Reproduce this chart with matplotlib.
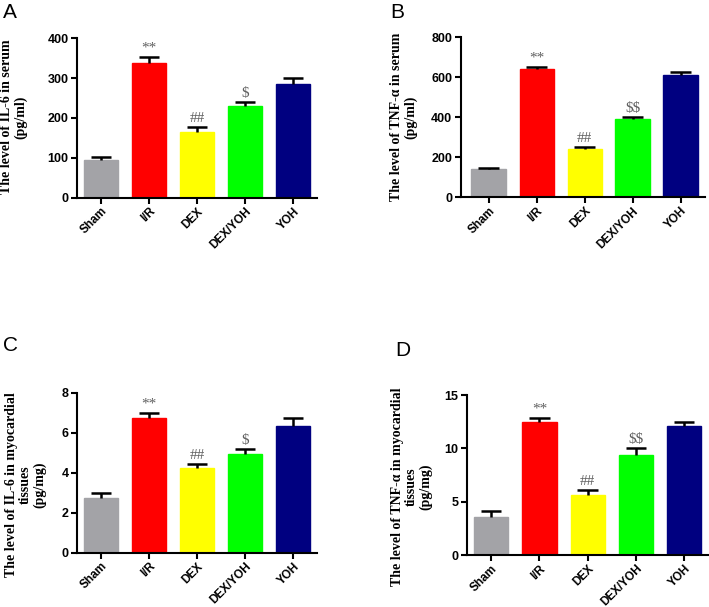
import numpy as np
import matplotlib.pyplot as plt

# groups and colours
groups = ["Sham", "I/R", "DEX", "DEX/YOH", "YOH"]
bar_colors = ["#a3a3a7", "#ff0000", "#ffff00", "#00ff00", "#000080"]

# values (mean, upper error)
il6_serum = [95, 338, 166, 231, 285]
il6_serum_err = [8, 16, 11, 8, 15]
tnf_serum = [140, 641, 243, 391, 613]
tnf_serum_err = [4, 12, 10, 12, 15]
il6_tissue = [2.72, 6.72, 4.22, 4.92, 6.35]
il6_tissue_err = [0.28, 0.28, 0.21, 0.26, 0.40]
tnf_tissue = [3.59, 12.44, 5.62, 9.40, 12.12]
tnf_tissue_err = [0.52, 0.43, 0.44, 0.60, 0.35]

il6_serum_sig = ["", "**", "##", "$", ""]
tnf_serum_sig = ["", "**", "##", "$$", ""]
il6_tissue_sig = ["", "**", "##", "$", ""]
tnf_tissue_sig = ["", "**", "##", "$$", ""]

W, H = 709, 607
fig = plt.figure(figsize=(W / 100, H / 100), dpi=100)


def px_axes(left, right, bottom, top):
    # pixel box -> figure fraction
    return fig.add_axes([left / W, 1 - bottom / H, (right - left) / W, (bottom - top) / H])


def draw_panel(ax, vals, errs, sigs, ymax, ystep, xlim):
    x = np.arange(len(groups))
    ax.bar(x, vals, width=0.71, color=bar_colors, edgecolor=bar_colors, zorder=2)
    tops = np.array(vals) + np.array(errs)
    # upper error bars only
    ax.vlines(x, vals, tops, color="black", linewidth=1.8, zorder=3)
    ax.hlines(tops, x - 0.21, x + 0.21, color="black", linewidth=1.8, zorder=3)
    for xi, t, s in zip(x, tops, sigs):
        if s:
            ax.annotate(s.replace("$", r"\$"), (xi, t), xytext=(0, 1.5),
                        textcoords="offset points", ha="center", va="bottom",
                        fontsize=11, color="#606060", family="Liberation Serif")
    ax.set_xlim(*xlim)
    ax.set_ylim(0, ymax)
    ax.set_yticks(np.arange(0, ymax + ystep / 2, ystep))
    ax.set_xticks(x)
    ax.set_xticklabels(groups, rotation=45, ha="right", rotation_mode="anchor")
    for sp in ["top", "right"]:
        ax.spines[sp].set_visible(False)
    for sp in ["left", "bottom"]:
        ax.spines[sp].set_linewidth(1.5)
    ax.tick_params(axis="both", direction="out", length=4, width=1.5, labelsize=9, pad=2)
    ax.tick_params(axis="x", labelsize=8.5, pad=1.5)
    for lab in ax.get_xticklabels() + ax.get_yticklabels():
        lab.set_fontweight("bold")
        lab.set_family("Liberation Sans")


axA = px_axes(77, 317, 197.7, 38.3)
draw_panel(axA, il6_serum, il6_serum_err, il6_serum_sig, 400, 100, (-0.5, 4.5))
axB = px_axes(460.7, 705.5, 197.3, 37.3)
draw_panel(axB, tnf_serum, tnf_serum_err, tnf_serum_sig, 800, 200, (-0.58, 4.52))
axC = px_axes(77, 317, 552.7, 392.7)
draw_panel(axC, il6_tissue, il6_tissue_err, il6_tissue_sig, 8, 2, (-0.5, 4.5))
axD = px_axes(466.7, 709, 555, 395)
draw_panel(axD, tnf_tissue, tnf_tissue_err, tnf_tissue_sig, 15, 5, (-0.51, 4.52))

# y labels
ylab_kw = dict(rotation=90, ha="center", va="center", multialignment="center",
               fontsize=10, fontweight="bold", family="Liberation Serif",
               linespacing=1.1)
fig.text(14 / W, 1 - 117 / H, "The level of IL-6 in serum\n(pg/ml)", **ylab_kw)
fig.text(404 / W, 1 - 117 / H, "The level of TNF-\u03b1 in serum\n(pg/ml)", **ylab_kw)
fig.text(26 / W, 1 - 485 / H, "The level of IL-6 in myocardial\ntissues\n(pg/mg)", **ylab_kw)
fig.text(412 / W, 1 - 487 / H, "The level of TNF-\u03b1 in myocardial\ntissues\n(pg/mg)", **ylab_kw)

# panel letters
let_kw = dict(fontsize=15, family="Liberation Sans", ha="left", va="top")
fig.text(3 / W, 1 - 3 / H, "A", **let_kw)
fig.text(390 / W, 1 - 3 / H, "B", **let_kw)
fig.text(3 / W, 1 - 336 / H, "C", **let_kw)
fig.text(395 / W, 1 - 341 / H, "D", **let_kw)

fig.savefig("out.png", dpi=100)
